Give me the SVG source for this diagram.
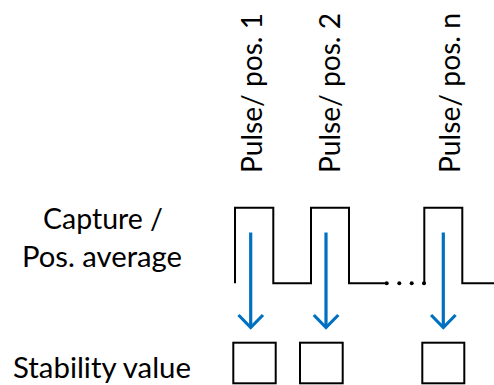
<svg xmlns="http://www.w3.org/2000/svg" width="494" height="385" viewBox="0 0 494 385">
  <style>
    .lbl { font-family: Lato, "Open Sans", "Liberation Sans", sans-serif; font-size: 29px; fill: #000; }
    .wave { fill: none; stroke: #000; stroke-width: 2; }
    .box { fill: #fff; stroke: #000; stroke-width: 2; }
    .arr { fill: none; stroke: #0070C0; stroke-width: 3.2; }
    .dot { fill: #000; }
  </style>
  <rect width="494" height="385" fill="#fff"/>
  <g id="row-labels">
    <text class="lbl" x="43" y="228.5" textLength="120" lengthAdjust="spacingAndGlyphs">Capture /</text>
    <text class="lbl" x="22" y="267" textLength="160" lengthAdjust="spacingAndGlyphs">Pos. average</text>
    <text class="lbl" x="13" y="377.5" textLength="178" lengthAdjust="spacingAndGlyphs">Stability value</text>
  </g>
  <g id="pulse-labels">
    <text class="lbl" transform="translate(262,173) rotate(-90)" x="0" y="0" textLength="160" lengthAdjust="spacingAndGlyphs">Pulse/ pos. 1</text>
    <text class="lbl" transform="translate(340,173) rotate(-90)" x="0" y="0" textLength="160" lengthAdjust="spacingAndGlyphs">Pulse/ pos. 2</text>
    <text class="lbl" transform="translate(460,173) rotate(-90)" x="0" y="0" textLength="160" lengthAdjust="spacingAndGlyphs">Pulse/ pos. n</text>
  </g>
  <g id="waveform">
    <path class="wave" d="M235,283.3 V207.7 H273.3 V283.3 H311 V207.7 H349 V283.3 H386.7"/>
    <path class="wave" d="M424.3,283.3 V207.7 H462.3 V283.3 H494"/>
    <circle class="dot" cx="386.7" cy="283.3" r="2"/>
    <circle class="dot" cx="399.3" cy="283.3" r="2"/>
    <circle class="dot" cx="411.7" cy="283.3" r="2"/>
    <circle class="dot" cx="424" cy="283.3" r="2"/>
  </g>
  <g id="stability-1"><rect class="box" x="233.3" y="342.7" width="42.4" height="40.6"/></g>
  <g id="stability-2"><rect class="box" x="300" y="342.7" width="42.7" height="40.6"/></g>
  <g id="stability-n"><rect class="box" x="422.3" y="342.7" width="42" height="40.6"/></g>
  <g id="connectors">
    <path class="arr" d="M250.7,232.5 V327"/>
    <path class="arr" d="M238.5,315 L250.7,327.5 L263,315"/>
    <path class="arr" d="M326,232.5 V327"/>
    <path class="arr" d="M313.8,315 L326,327.5 L338.3,315"/>
    <path class="arr" d="M443.3,232.5 V327"/>
    <path class="arr" d="M431.1,315 L443.3,327.5 L455.6,315"/>
  </g>
</svg>
